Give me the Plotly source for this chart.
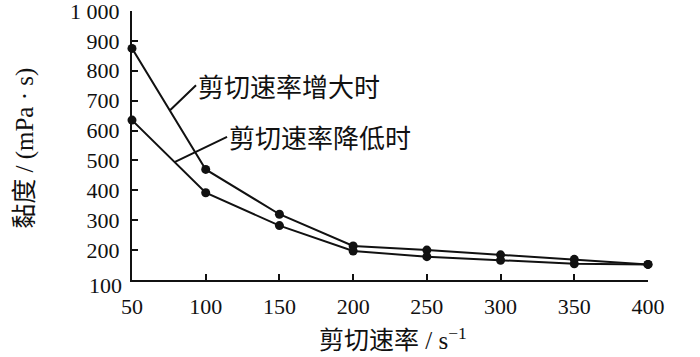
import plotly.graph_objects as go

shear_rate = [50, 100, 150, 200, 250, 300, 350, 400]
visc_increasing = [875, 470, 320, 214, 200, 184, 169, 152]
visc_decreasing = [635, 392, 282, 197, 178, 166, 154, 152]

y_tickvals = [200, 300, 400, 500, 600, 700, 800, 900, 1000]
y_ticktext = ["200", "300", "400", "500", "600", "700", "800", "900", "1 000"]
x_tickvals = [50, 100, 150, 200, 250, 300, 350, 400]

label_inc = "剪切速率增大时"
label_dec = "剪切速率降低时"

FONT = "'Liberation Serif', 'Times New Roman', Tinos, 'DejaVu Serif', serif"
CJK = "'Noto Sans CJK SC'"

fig = go.Figure()
for vals in (visc_increasing, visc_decreasing):
    fig.add_trace(go.Scatter(
        x=shear_rate, y=vals, mode="lines+markers",
        line=dict(color="#111111", width=2),
        marker=dict(color="#111111", size=9),
        showlegend=False, cliponaxis=False, hoverinfo="skip",
    ))

fig.update_layout(
    width=700, height=357,
    margin=dict(l=132, r=52, t=11, b=77, autoexpand=False),
    paper_bgcolor="white", plot_bgcolor="white",
    font=dict(family=FONT, color="#111111", size=22),
    showlegend=False,
)
fig.update_xaxes(
    range=[50, 400], tickvals=x_tickvals, automargin=False,
    showline=True, linecolor="#111111", linewidth=2.2,
    ticks="inside", ticklen=6, tickwidth=2, tickcolor="#111111",
    showgrid=False, zeroline=False, ticklabelstandoff=5,
    ticklabeloverflow="allow",
    tickfont=dict(family=FONT, size=22),
)
fig.update_yaxes(
    range=[99.9, 1000.1], tickvals=y_tickvals, ticktext=y_ticktext, automargin=False,
    showline=True, linecolor="#111111", linewidth=2.2,
    ticks="inside", ticklen=6, tickwidth=2, tickcolor="#111111",
    showgrid=False, zeroline=False, ticklabelstandoff=6,
    ticklabeloverflow="allow",
    tickfont=dict(family=FONT, size=22),
)

# y=100 label sits slightly below the corner
fig.add_annotation(x=0, xref="paper", y=100, yref="y", text="100",
                   showarrow=False, xanchor="right", yanchor="middle",
                   xshift=-8, yshift=-6, font=dict(family=FONT, size=22))

# curve labels with leader lines
fig.add_annotation(x=75.8, y=668, xref="x", yref="y", text=label_inc,
                   showarrow=True, arrowhead=0, arrowwidth=2, arrowcolor="#111111",
                   ax=26, ay=-25, xanchor="left", yanchor="middle",
                   font=dict(family=CJK, size=26))
fig.add_annotation(x=79.2, y=495, xref="x", yref="y", text=label_dec,
                   showarrow=True, arrowhead=0, arrowwidth=2, arrowcolor="#111111",
                   ax=52, ay=-25, xanchor="left", yanchor="middle",
                   font=dict(family=CJK, size=26))

# axis titles
fig.add_annotation(x=0.505, y=-0.215, xref="paper", yref="paper",
                   text="<span style=\"font-family:'Noto Sans CJK SC'\">剪切速率</span> / s<sup>−1</sup>",
                   showarrow=False, xanchor="center", yanchor="middle",
                   font=dict(family=FONT, size=25))
fig.add_annotation(x=-0.212, y=0.49, xref="paper", yref="paper",
                   text="<span style=\"font-family:'Noto Sans CJK SC'\">黏度</span> / (mPa · s)",
                   showarrow=False, textangle=-90, xanchor="center", yanchor="middle",
                   font=dict(family=FONT, size=25))

fig.write_html("out.html", config={"displayModeBar": False},
               post_script="document.body.style.margin='0';")
